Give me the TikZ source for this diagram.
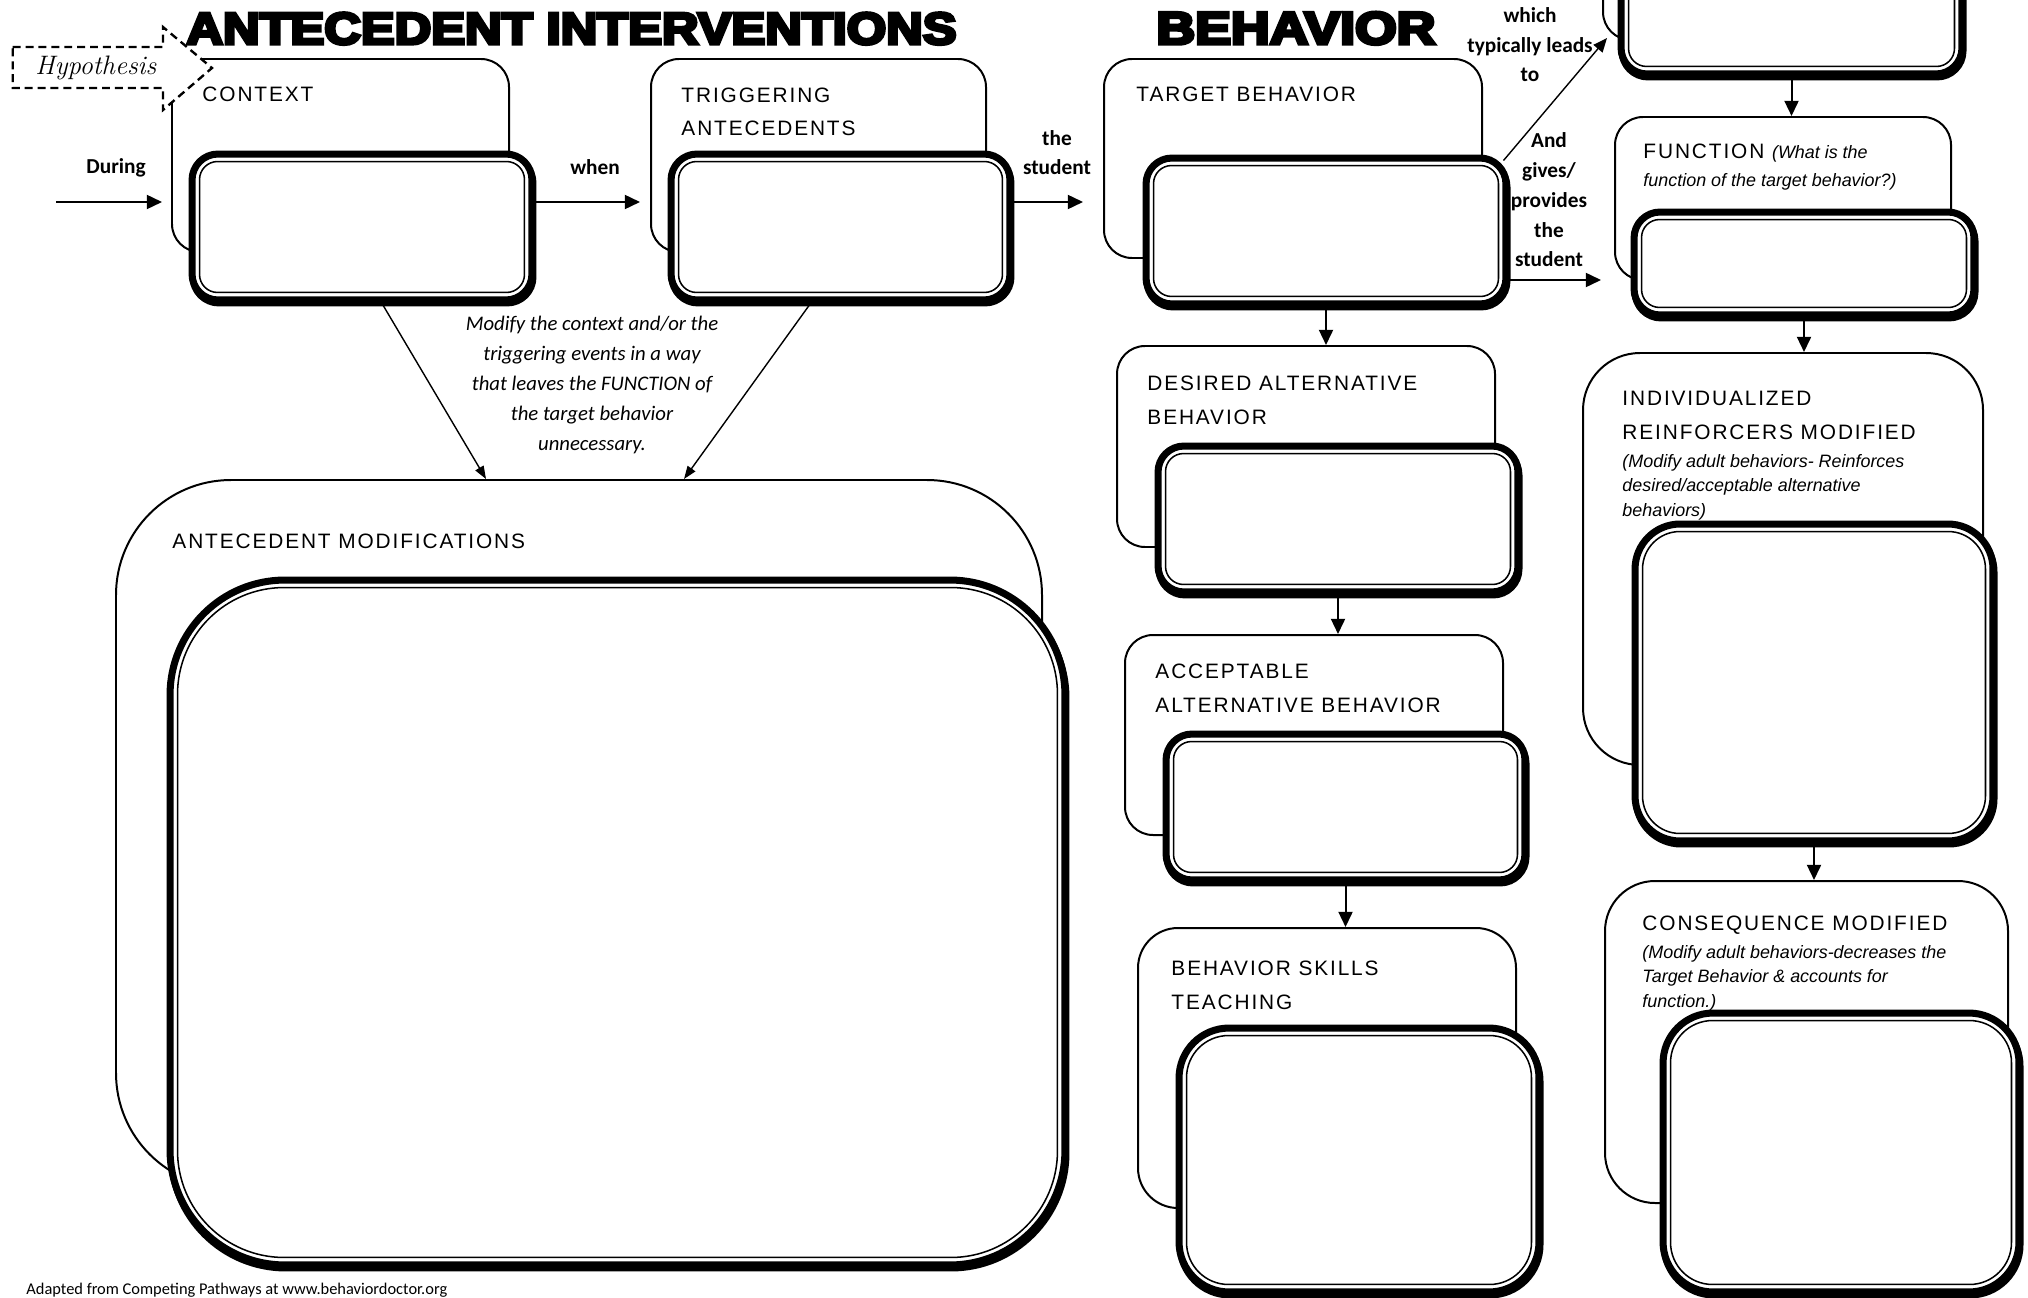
\documentclass[tikz,border=0pt]{standalone}
\usepackage{fontspec}
\usepackage{graphicx}
\usetikzlibrary{arrows.meta,calc,fit}
\newfontfamily\labfont{Liberation Sans}[LetterSpace=9]
\newfontfamily\notefont{Liberation Sans}
\newfontfamily\calfont{Carlito}
\newfontfamily\titlefont{Liberation Sans}[BoldFeatures={FakeBold=7}]

\tikzset{
  obox/.style={draw, line width=0.85pt, inner sep=0pt, fill=white},
  lab/.style={anchor=base west, inner sep=0pt, align=left, font=\labfont\fontsize{8.9pt}{14.4pt}\selectfont},
  note/.style={anchor=base west, inner sep=0pt, align=left, font=\notefont\itshape\fontsize{7.65pt}{10.3pt}\selectfont},
  bl/.style={anchor=base, inner sep=0pt, align=center, font=\calfont\bfseries\fontsize{9.1pt}{12.75pt}\selectfont},
  mid/.style={anchor=base, inner sep=0pt, align=center, font=\calfont\itshape\fontsize{8.85pt}{12.75pt}\selectfont},
  arr/.style={line width=0.85pt, -{Triangle[length=6.5pt,width=6pt]}},
  darr/.style={line width=0.6pt, -{Triangle[length=5.5pt,width=4pt]}},
  larr/.style={line width=0.6pt, -{Triangle[length=6pt,width=5pt]}},
  hypo/.style={draw, fill=white, line width=1pt, dash pattern=on 3.4pt off 2.1pt}
}

\newcommand\outerbox[6]{\node[obox, rounded corners=#6, fit={(#2,#3) (#4,#5)}] (#1) {};}
\newcommand\thickbox[7]{%
  \node[inner sep=0pt, fit={(#2,#3) (#4,#5)}] (#1) {};
  \draw[line width=3pt, rounded corners=#6] ($(#1.north west)+(4.5,6.5)$) rectangle ($(#1.south east)+(-2.5,-0.5)$);
  \draw[line width=3pt, fill=white, rounded corners=#6] ($(#1.north west)+(3.5,3.5)$) rectangle ($(#1.south east)+(-3.5,-3.5)$);
  \draw[line width=0.65pt, rounded corners=#7] ($(#1.north west)+(11,11)$) rectangle ($(#1.south east)+(-11,-11)$);
}

\begin{document}
\begin{tikzpicture}[x=0.015cm, y=-0.015cm]
\useasboundingbox (0,0) rectangle (2028,1298);
\clip (0,0) rectangle (2028,1298);

% outer (thin) boxes
\outerbox{ctxO}{172}{59}{509}{252}{0.42cm}
\outerbox{trgO}{651}{59}{986}{252}{0.42cm}
\outerbox{tgtO}{1104}{59}{1482}{258}{0.42cm}
\outerbox{topO}{1603}{-200}{1940}{40}{0.42cm}
\outerbox{fnO}{1615}{117}{1951}{280}{0.42cm}
\outerbox{desO}{1117}{346}{1495}{547}{0.42cm}
\outerbox{accO}{1125}{635}{1503}{835}{0.42cm}
\outerbox{bskO}{1138}{928}{1516}{1208}{0.6cm}
\outerbox{indO}{1583}{353}{1983}{765}{0.855cm}
\outerbox{conO}{1605}{881}{2008}{1203}{0.75cm}
\outerbox{antO}{116}{480}{1042}{1188}{1.725cm}

% thick answer boxes
\thickbox{ctxI}{189}{151}{535}{303}{0.39cm}{0.27cm}
\thickbox{trgI}{668}{151}{1013}{303}{0.39cm}{0.27cm}
\thickbox{tgtI}{1143}{155}{1509}{307}{0.39cm}{0.27cm}
\thickbox{topI}{1618}{-100}{1965}{77}{0.39cm}{0.27cm}
\thickbox{fnI}{1631}{209}{1977}{318}{0.39cm}{0.27cm}
\thickbox{desI}{1155}{443}{1521}{595}{0.39cm}{0.27cm}
\thickbox{accI}{1163}{731}{1528}{883}{0.39cm}{0.27cm}
\thickbox{bskI}{1176}{1025}{1542}{1295}{0.75cm}{0.63cm}
\thickbox{indI}{1632}{521}{1996}{844}{0.675cm}{0.56cm}
\thickbox{conI}{1660}{1010}{2022}{1295}{0.75cm}{0.63cm}
\thickbox{antI}{167}{577}{1068}{1268}{1.725cm}{1.6cm}

% hypothesis tag
\draw[hypo] (12.7,47) -- (163,47) -- (163,27) -- (212,68) -- (163,110) -- (163,88) -- (12.7,88) -- cycle;
\node[anchor=base west, inner sep=0pt, font=\rmfamily\itshape\fontsize{11.4pt}{12pt}\selectfont] (hyp) at (35,75) {Hypothesis};

% titles
\node[anchor=south west, inner sep=0pt] (title1) at (186,45) {\resizebox{11.55cm}{0.47cm}{\titlefont\bfseries ANTECEDENT INTERVENTIONS}};
\node[anchor=south west, inner sep=0pt] (title2) at (1156,45) {\resizebox{4.185cm}{0.48cm}{\titlefont\bfseries BEHAVIOR}};

% box labels (base = baseline of last line)
\node[lab] (ctxL) at (202,102) {CONTEXT};
\node[lab] (trgL) at (681,136) {TRIGGERING\\ANTECEDENTS};
\node[lab] (tgtL) at (1136,102) {TARGET BEHAVIOR};
\node[lab] (desL) at (1147,424) {DESIRED ALTERNATIVE\\BEHAVIOR};
\node[lab] (accL) at (1155,712) {ACCEPTABLE\\ALTERNATIVE BEHAVIOR};
\node[lab] (bskL) at (1171,1009) {BEHAVIOR SKILLS\\TEACHING};
\node[lab] (antL) at (172,548) {ANTECEDENT MODIFICATIONS};
\node[lab, font=\labfont\fontsize{8.9pt}{12.3pt}\selectfont] (fnL) at (1643,187)
  {FUNCTION {\notefont\itshape\fontsize{7.65pt}{12.3pt}\selectfont (What is the}\\{\notefont\itshape\fontsize{7.65pt}{12.3pt}\selectfont function of the target behavior?)}};
\node[lab, font=\labfont\fontsize{8.9pt}{14.4pt}\selectfont] (indL) at (1622,439) {INDIVIDUALIZED\\REINFORCERS MODIFIED};
\node[note] (indN) at (1622,516) {(Modify adult behaviors- Reinforces\\desired/acceptable alternative\\behaviors)};
\node[lab] (conL) at (1642,930) {CONSEQUENCE MODIFIED};
\node[note] (conN) at (1642,1007) {(Modify adult behaviors-decreases the\\Target Behavior \& accounts for\\function.)};

% connector words
\node[bl] (during) at (116,174) {During};
\node[bl] (when) at (595,175) {when};
\node[bl] (thestu) at (1057,175) {the\\student};
\node[bl] (which) at (1530,82) {which\\typically leads\\to};
\node[bl] (gives) at (1549,267) {And\\gives/\\provides\\the\\student};
\node[mid] (modtxt) at (592,450) {Modify the context and/or the\\triggering events in a way\\that leaves the FUNCTION of\\the target behavior\\unnecessary.};
\node[anchor=base west, inner sep=0pt, font=\calfont\fontsize{7pt}{8pt}\selectfont] (foot) at (26,1294) {Adapted from \underline{Competing Pathways} at www.behaviordoctor.org};

% connectors
\coordinate (dS) at (56,202);
\coordinate (gY) at (0,280);
\coordinate (tlE) at (1607,38);
\draw[arr, shorten >=9*0.015cm] (dS) -- (dS -| ctxO.west);
\draw[arr, shorten >=10*0.015cm] (ctxI.east |- dS) -- (trgO.west |- dS);
\draw[arr, shorten >=20*0.015cm] (trgI.east |- dS) -- (tgtO.west |- dS);
\draw[larr] ($(tgtI.north east)+(-6,6)$) -- (tlE);
\draw[arr, shorten >=13*0.015cm] (tgtI.east |- gY) -- (fnO.west |- gY);
\draw[arr] (topI.south) -- (topI.south |- fnO.north);
\draw[arr] (fnI.south) -- (fnI.south |- indO.north);
\draw[arr] (indI.south) -- (indI.south |- conO.north);
\draw[arr] (tgtI.south) -- (tgtI.south |- desO.north);
\draw[arr] (desI.south) -- (desI.south |- accO.north);
\draw[arr] (accI.south) -- (accI.south |- bskO.north);
\draw[darr] ($(ctxI.south)+(20,0)$) -- ($(antO.north)+(-93,0)$);
\draw[darr] ($(trgI.south)+(-30,0)$) -- ($(antO.north)+(105,0)$);
\end{tikzpicture}
\end{document}
